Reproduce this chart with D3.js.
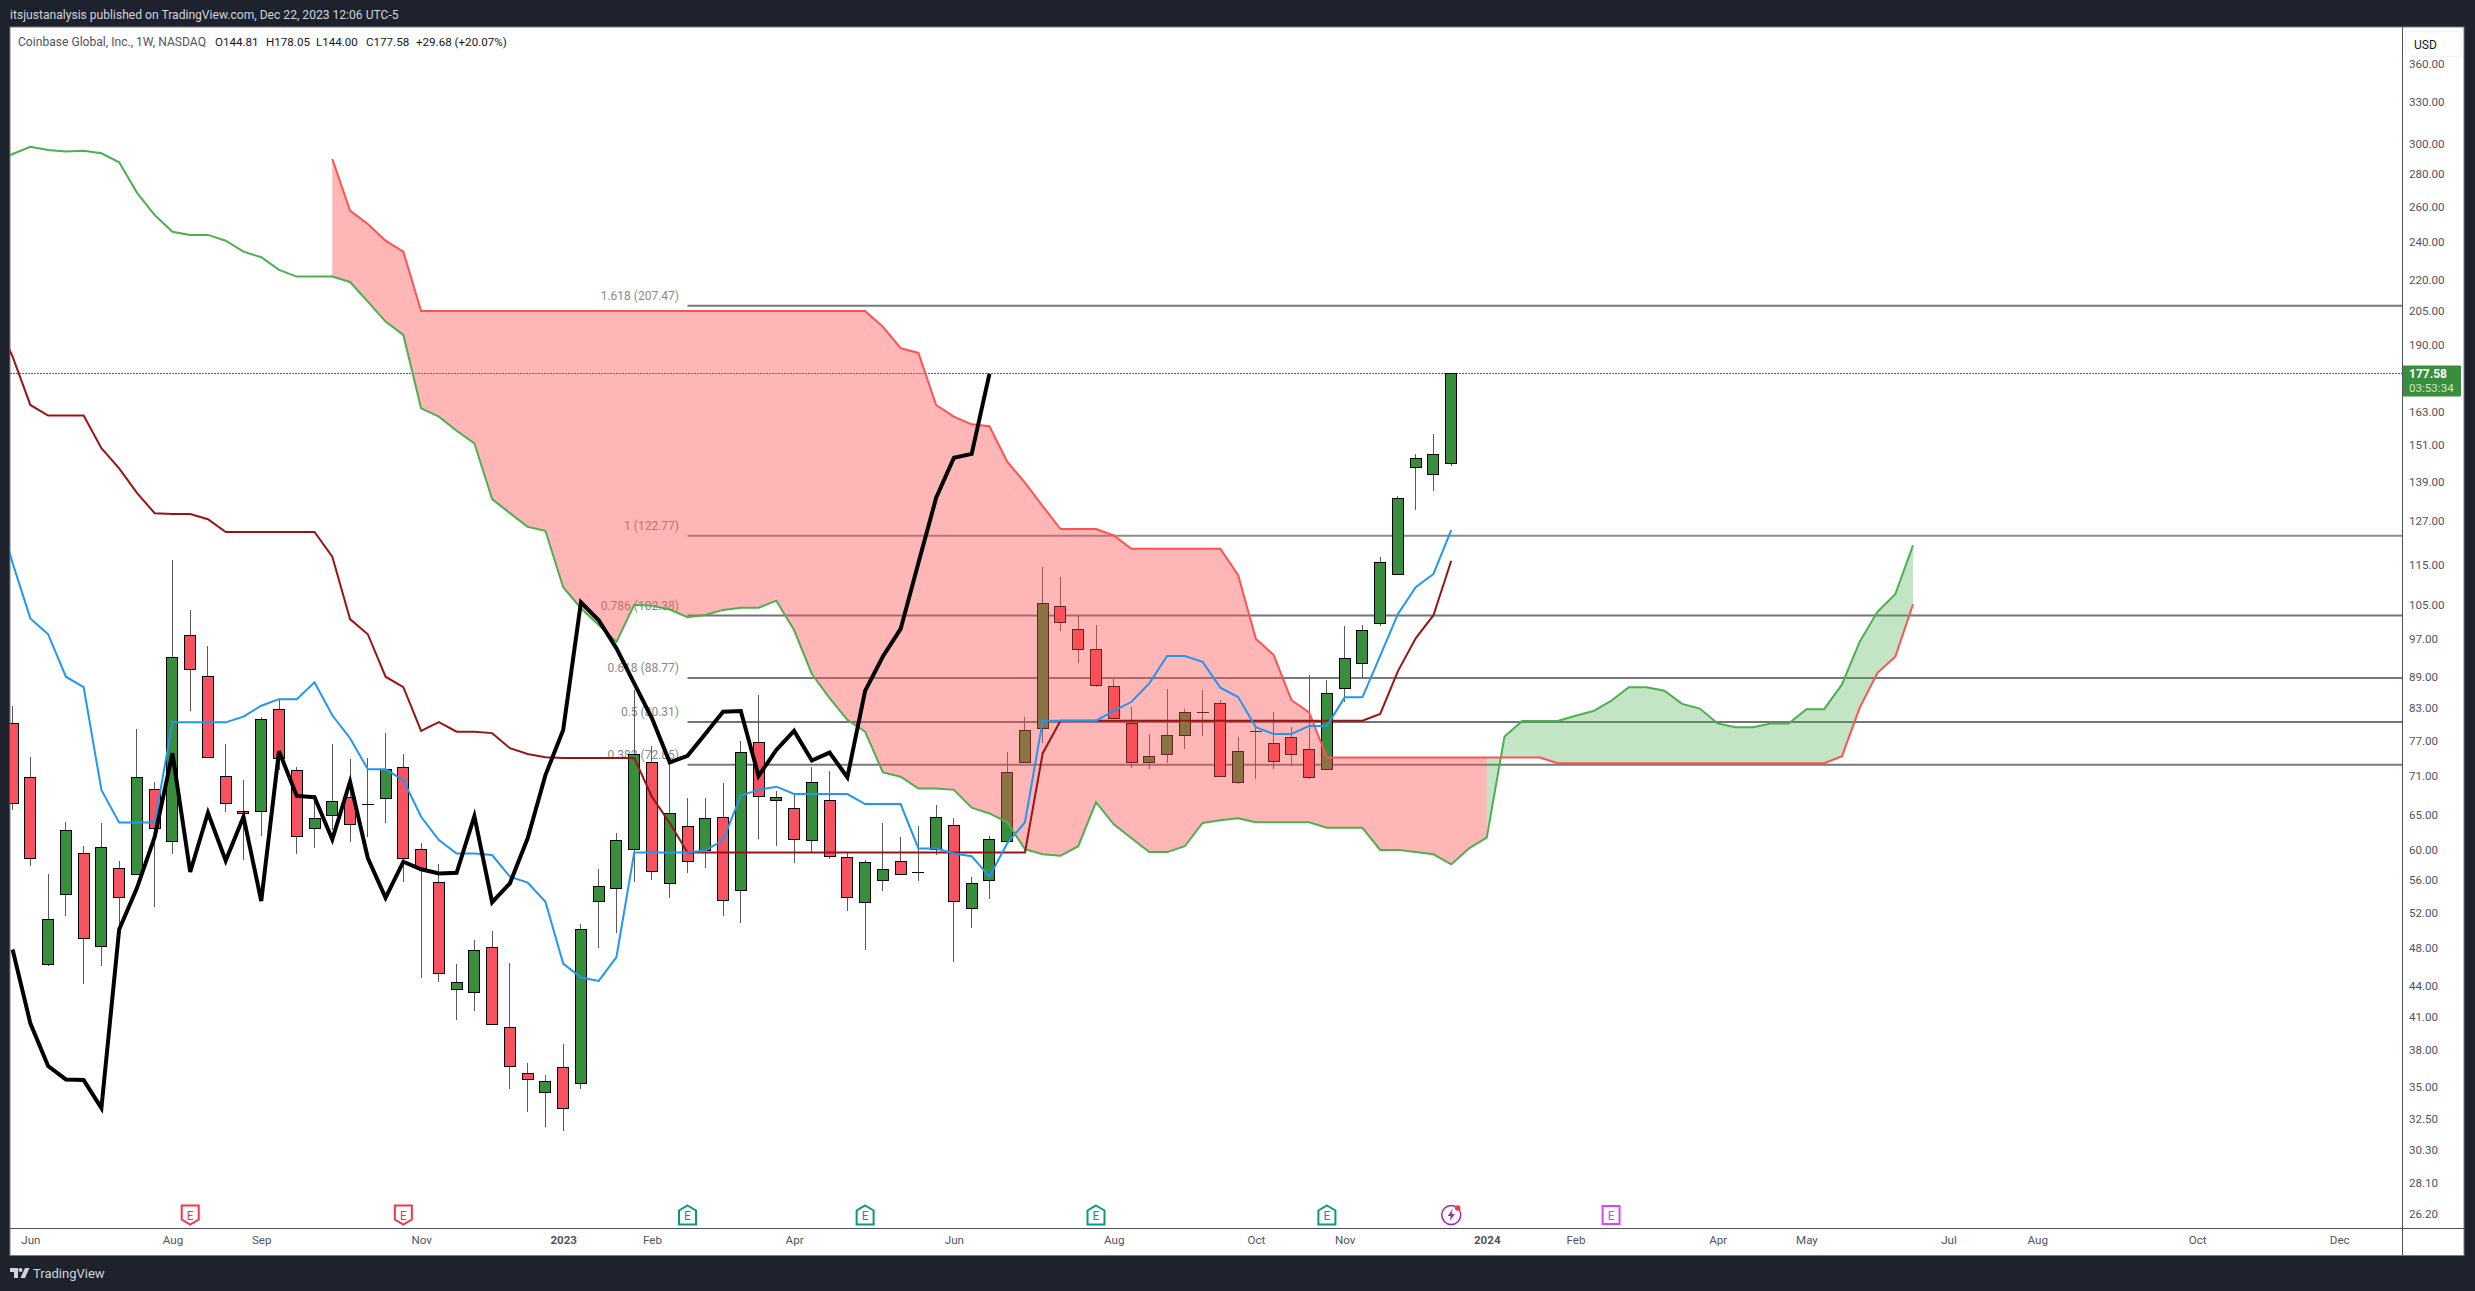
<!DOCTYPE html>
<html>
    <head>
        <meta charset="UTF-8">
        <title>Coinbase Global, Inc., 1W</title>
        <script src="https://d3js.org/d3.v7.min.js"></script>
        <style>
            html, body { margin: 0; padding: 0; background: #1e222d; }
            svg { display: block; }
            text { font-family: Roboto, sans-serif; }
            .axis path, .axis line { display: none; }
            .axis text { font-family: Roboto, sans-serif; font-size: 11.6px; fill: #50535e; }
            .wick, .body, .dotted { shape-rendering: crispEdges; }
        </style>
    </head>
    <body>
        <svg id="chart" width="2475" height="1291"></svg>
        <script>
            // weekly candles
            const open = [
                80.07,70.80,46.22,54.21,59.53,48.15,57.52,56.74,68.88,61.12,
                97.86,89.05,70.89,65.51,65.45,82.66,71.87,63.01,64.86,67.63,
                66.55,67.48,72.42,60.06,55.72,43.66,43.36,48.04,39.99,36.04,
                34.52,36.54,35.24,53.33,54.96,60.06,73.19,55.60,63.30,59.89,
                64.62,54.69,76.68,67.18,65.96,61.32,67.18,59.00,53.23,55.97,
                58.45,57.00,60.06,63.39,52.51,55.97,61.18,73.26,79.17,104.54,
                99.20,94.78,87.12,80.07,73.26,74.61,77.91,82.10,83.81,69.99,
                78.63,76.50,77.55,75.46,72.09,86.76,91.81,100.58,112.46,143.55,
                141.27,144.81]
            const high = [
                83.29,74.20,56.78,63.97,60.52,63.74,58.49,79.04,70.09,116.19,
                103.67,95.50,76.38,70.36,81.22,84.44,72.52,67.99,76.38,73.76,
                73.97,78.32,74.66,60.98,58.09,46.25,48.85,49.86,46.32,36.88,
                35.90,38.53,50.67,57.43,62.35,86.39,76.03,73.14,67.48,67.48,
                69.83,76.90,85.41,68.62,68.26,72.52,71.82,59.53,58.63,63.74,
                61.73,63.35,66.46,64.47,56.44,61.92,74.95,81.22,114.34,111.77,
                102.26,100.19,88.58,83.16,78.14,86.62,82.72,86.39,84.44,77.61,
                79.76,82.16,79.40,89.40,88.38,99.98,100.19,116.98,134.40,148.00,
                154.90,178.05]
            const low = [
                65.71,57.83,46.04,51.63,44.19,46.04,49.98,56.65,52.70,59.44,
                82.40,74.00,65.45,58.63,61.92,72.00,59.44,60.24,62.77,61.12,
                61.82,63.83,55.80,44.79,44.42,40.70,41.55,40.24,34.80,33.02,
                31.91,31.62,34.80,47.96,49.67,55.76,56.01,53.80,56.95,57.62,
                51.63,50.82,61.49,60.56,58.27,59.75,58.80,52.22,47.75,54.66,
                56.65,55.92,59.30,46.49,50.24,53.66,61.08,73.15,76.61,98.90,
                91.93,86.92,80.95,72.36,72.15,73.14,75.56,77.84,70.83,69.77,
                70.52,72.15,72.70,70.52,72.00,84.11,88.78,100.00,112.40,130.30,
                136.10,144.00]
            const close = [
                66.72,58.89,51.20,62.77,49.03,60.34,53.84,70.80,63.01,93.07,
                90.55,74.09,66.72,65.22,80.80,73.92,61.82,64.47,67.02,63.60,
                66.55,72.09,58.85,57.52,45.28,44.36,47.71,40.31,36.63,35.56,
                35.40,33.28,50.05,55.21,61.29,74.57,57.08,65.22,58.40,64.47,
                53.43,74.95,67.79,67.63,61.46,69.99,59.12,53.84,58.32,57.38,
                56.74,57.00,64.62,53.36,55.60,61.46,71.61,78.80,105.27,100.81,
                94.78,87.32,80.98,73.26,74.26,77.91,82.10,82.10,70.94,75.12,
                78.63,73.43,74.61,70.80,85.75,92.86,98.98,115.58,133.74,146.52,
                147.87,177.58]

            // ichimoku lines
            const conversion = [
                115.4,101.7,98.1,89.05,86.95,68.8,63.85,63.85,63.85,80.25,
                80.25,80.25,80.25,81.3,83.35,84.6,84.6,87.9,81.55,77.4,
                72.1,72.1,70.35,64.7,61.35,59.5,59.5,59.3,56.45,55.7,
                53.3,46.3,44.85,44.5,47.0,59.65,59.65,59.65,59.65,59.9,
                61.35,67.9,68.8,69.3,68.15,68.15,68.15,68.15,66.6,66.6,
                66.6,60.2,60.2,59.5,59.15,56.45,60.9,63.9,80.55,80.55,
                80.55,80.55,82.35,84.1,87.7,93.35,93.35,92.1,86.85,85.0,
                79.35,78.15,78.15,79.6,79.6,84.95,84.95,93.4,102.75,109.2,
                112.55,124.4]
            const base = [
                184.7,165.45,161.5,161.5,161.5,149.9,143.2,135.4,129.25,129.05,
                129.05,127.5,123.85,123.85,123.85,123.85,123.85,123.85,117.05,101.55,
                98.1,89.05,86.95,78.7,80.3,78.55,78.55,78.3,75.65,74.65,
                74.1,74.0,74.0,74.0,74.0,74.0,67.7,63.8,59.65,59.65,
                59.65,59.65,59.65,59.65,59.65,59.65,59.65,59.65,59.65,59.65,
                59.65,59.65,59.65,59.65,59.65,59.65,59.65,59.65,74.8,80.55,
                80.55,80.55,80.55,80.55,80.55,80.55,80.55,80.55,80.55,80.55,
                80.55,80.55,80.55,80.55,80.55,80.55,80.55,81.8,90.2,97.2,
                102.45,116.0]
            const lagging = [
                47.8,40.4,36.65,35.55,35.5,33.3,50.05,55.0,61.8,74.8,
                57.05,65.3,58.55,64.7,53.4,75.15,67.85,67.65,61.45,70.1,
                58.9,53.8,58.4,57.4,56.85,56.95,64.8,53.25,55.6,61.6,
                71.15,78.85,105.5,101.3,95.0,87.7,81.0,73.25,74.35,78.15,
                82.2,82.35,71.0,75.35,78.7,73.55,74.9,70.8,86.2,93.25,
                99.3,115.4,133.9,146.7,148.0,177.58]
            const spanA = [
                293.2,298.1,295.9,294.8,295.4,293.7,287.7,268.5,255.1,245.6,
                243.8,243.8,240.6,234.7,231.7,225.1,221.7,221.7,221.7,219.0,
                209.4,200.1,194.1,164.2,161.1,156.0,151.6,133.5,129.3,125.3,
                124.2,109.2,104.1,100.2,96.4,104.9,104.7,103.8,102.0,102.5,
                103.7,104.2,104.2,105.9,99.05,89.6,84.8,80.7,78.55,71.6,
                70.9,69.0,69.0,68.8,66.05,65.2,63.9,60.1,59.4,59.2,
                60.5,66.9,63.6,61.6,59.7,59.7,60.5,63.8,64.2,64.5,
                63.9,63.9,63.9,63.9,63.1,63.1,63.1,60.0,60.0,59.7,
                59.4,58.05,60.2,61.7,77.7,80.5,80.5,80.5,81.45,82.35,
                84.25,86.95,86.95,86.25,83.7,82.8,80.05,79.35,79.35,80.05,
                80.05,82.7,82.7,87.5,96.45,103.25,107.45,120.15]
            const spanB = [
                null,null,null,null,null,null,null,null,null,null,
                null,null,null,null,null,null,null,null,289.9,257.7,
                250.0,240.6,234.7,205.0,205.0,205.0,205.0,205.0,205.0,205.0,
                205.0,205.0,205.0,205.0,205.0,205.0,205.0,205.0,205.0,205.0,
                205.0,205.0,205.0,205.0,205.0,205.0,205.0,205.0,205.0,197.8,
                188.3,186.3,165.45,161.1,158.3,157.6,145.4,138.6,131.4,124.7,
                124.7,124.7,122.9,119.2,119.2,119.2,119.2,119.2,119.2,112.3,
                97.1,93.6,84.45,82.1,74.05,74.05,74.05,74.05,74.05,74.05,
                74.05,74.05,74.05,74.05,74.05,74.05,74.05,73.1,73.1,73.1,
                73.1,73.1,73.1,73.1,73.1,73.1,73.1,73.1,73.1,73.1,
                73.1,73.1,73.1,74.3,83.0,89.85,93.2,105.05]

            // value of each line one bar before the left edge, so they run off the plot
            const conversionBefore = 132.7
            const baseBefore = 202
            const spanABefore = 288

            // fib levels
            const fibLevels = ['1.618','1','0.786','0.618','0.5','0.382']
            const fibPrices = [207.47,122.77,102.38,88.77,80.31,72.85]
            const fibColors = ['#787878','#8c8c8c','#747474','#787878','#747474','#787878']

            // axes
            const priceTicks = [360,330,300,280,260,240,220,205,190,163,151,139,127,115,105,97,89,83,77,71,65,60,56,52,48,44,41,38,35,32.5,30.3,28.1,26.2]
            const dateTickIndex = [1,9,14,23,31,36,44,53,62,70,75,83,88,96,101,109,114,123,131]
            const dateTickLabels = ['Jun','Aug','Sep','Nov','2023','Feb','Apr','Jun','Aug','Oct','Nov','2024','Feb','Apr','May','Jul','Aug','Oct','Dec']

            // earnings / dividends flags along the bottom
            const earningsMissIndex = [10,22]
            const earningsBeatIndex = [38,48,61,74]
            const earningsNextIndex = [90]
            const newsIndex = [81]

            const lastPrice = 177.58
            const cloudRedFrom = 18, cloudSwitch = 83, cloudEnd = 107

            const svg = d3.select('#chart')
            const plot = { left: 10, right: 2402, top: 27, bottom: 1228, outerRight: 2464, outerBottom: 1255.5 }

            const xScale = d3.scaleLinear().domain([0, 107]).range([12.6, 1913])
            const yScale = d3.scaleLog().domain([80.31, 207.47]).range([722, 305.7])

            // page frame
            svg.append('rect')
                .attr('x', plot.left).attr('y', plot.top)
                .attr('width', plot.outerRight - plot.left)
                .attr('height', plot.outerBottom - plot.top)
                .style('fill', 'white').style('stroke', '#777a85')

            svg.append('defs').append('clipPath').attr('id', 'plotClip')
                .append('rect')
                .attr('x', plot.left).attr('y', plot.top)
                .attr('width', plot.right - plot.left)
                .attr('height', plot.bottom - plot.top)

            const g = svg.append('g').attr('clip-path', 'url(#plotClip)')

            // fib lines and labels go under everything
            fibPrices.forEach(function(p, i) {
                g.append('line')
                    .attr('x1', xScale(38)).attr('x2', plot.right)
                    .attr('y1', yScale(p)).attr('y2', yScale(p))
                    .style('stroke', fibColors[i]).style('stroke-width', 2)
                g.append('text')
                    .attr('x', 679).attr('y', yScale(p) - 6)
                    .attr('text-anchor', 'end')
                    .style('font-size', '12px').style('fill', '#8a8a8a')
                    .text(fibLevels[i] + ' (' + p.toFixed(2) + ')')
            })

            // last price dotted line
            g.append('line')
                .attr('class', 'dotted')
                .attr('x1', plot.left).attr('x2', plot.right)
                .attr('y1', yScale(lastPrice)).attr('y2', yScale(lastPrice))
                .style('stroke', '#2e7d32').style('stroke-dasharray', '1.5 1.5')

            // candles
            const candles = g.selectAll('g.candle').data(open).enter().append('g').attr('class', 'candle')
            candles.append('line')
                .attr('class', 'wick')
                .attr('x1', (d, i) => xScale(i)).attr('x2', (d, i) => xScale(i))
                .attr('y1', (d, i) => yScale(high[i])).attr('y2', (d, i) => yScale(low[i]))
                .style('stroke', '#5a5a5a')
            candles.append('rect')
                .attr('class', 'body')
                .attr('x', (d, i) => xScale(i) - 5.5)
                .attr('width', 11)
                .attr('y', (d, i) => yScale(Math.max(open[i], close[i])))
                .attr('height', (d, i) => Math.max(0.01, yScale(Math.min(open[i], close[i])) - yScale(Math.max(open[i], close[i]))))
                .style('fill', (d, i) => close[i] >= open[i] ? '#388e3c' : '#f7525f')
                .style('stroke', 'black')

            // cloud, painted over the candles
            const cloudArea = d3.area()
                .x(d => xScale(d))
                .y0(d => yScale(spanA[d]))
                .y1(d => yScale(spanB[d]))
            g.append('path').attr('d', cloudArea(d3.range(cloudRedFrom, cloudSwitch + 1)))
                .style('fill', '#ff5252').style('fill-opacity', 0.42)
            g.append('path').attr('d', cloudArea(d3.range(cloudSwitch, cloudEnd + 1)))
                .style('fill', '#4caf50').style('fill-opacity', 0.33)

            function drawLine(values, color, width, before) {
                const points = values.map((d, i) => ({ index: i, price: d }))
                if (before !== undefined) points.unshift({ index: -1, price: before })
                const line = d3.line()
                    .defined(d => d.price !== null)
                    .x(d => xScale(d.index))
                    .y(d => yScale(d.price))
                g.append('path')
                    .attr('d', line(points))
                    .style('fill', 'none')
                    .style('stroke', color)
                    .style('stroke-width', width)
            }
            drawLine(spanA, '#4caf50', 2, spanABefore)
            drawLine(spanB, '#ff5252', 2)
            drawLine(base, '#991515', 2, baseBefore)
            drawLine(conversion, '#2196f3', 2, conversionBefore)
            drawLine(lagging, '#000000', 4)

            // earnings flags
            const flagY = 1215
            const flagMark = svg.append('g')
            function drawFlag(index, shape, color) {
                const f = flagMark.append('g').attr('transform', 'translate(' + xScale(index) + ',' + flagY + ')')
                f.append('path').attr('d', shape)
                    .style('fill', 'white').style('stroke', color).style('stroke-width', 2)
                f.append('text').attr('y', 4.5).attr('text-anchor', 'middle')
                    .style('font-size', '12px').style('fill', color).text('E')
            }
            earningsMissIndex.forEach(i => drawFlag(i, 'M-8.5,-9.5 H8.5 V4.5 L0,9.5 L-8.5,4.5 Z', '#f23645'))
            earningsBeatIndex.forEach(i => drawFlag(i, 'M0,-9.5 L8.5,-4.5 V9.5 H-8.5 V-4.5 Z', '#089981'))
            earningsNextIndex.forEach(i => drawFlag(i, 'M-8.5,-9 H8.5 V9 H-8.5 Z', '#e040fb'))
            newsIndex.forEach(function(i) {
                const f = flagMark.append('g').attr('transform', 'translate(' + xScale(i) + ',' + flagY + ')')
                f.append('circle').attr('r', 9.5).style('fill', 'white').style('stroke', '#9c27b0').style('stroke-width', 1.5)
                f.append('path').attr('d', 'M1.5,-6 L-3.5,1 H-0.5 L-1.5,6 L3.5,-1 H0.5 Z').style('fill', '#9c27b0')
                f.append('circle').attr('cx', 6.5).attr('cy', -7).attr('r', 2.8).style('fill', '#f23645')
            })

            // price axis
            svg.append('g')
                .attr('class', 'axis')
                .attr('transform', 'translate(' + plot.right + ',0)')
                .call(d3.axisRight(yScale).tickValues(priceTicks).tickSize(0).tickPadding(7).tickFormat(d3.format('.2f')))
            svg.append('rect')
                .attr('x', plot.right + 1).attr('y', plot.top + 1)
                .attr('width', plot.outerRight - plot.right - 2).attr('height', 32)
                .style('fill', 'white')
            svg.append('rect')
                .attr('x', 2405.5).attr('y', 31.5).attr('width', 55.5).attr('height', 25).attr('rx', 3)
                .style('fill', 'white').style('stroke', '#f0f3fa').style('stroke-width', 1.5)
            svg.append('text').attr('x', 2414).attr('y', 49)
                .style('font-size', '12px').style('fill', '#131722').text('USD')

            // last price tag
            svg.append('rect')
                .attr('x', plot.right).attr('y', yScale(lastPrice) - 8.5)
                .attr('width', 59).attr('height', 31).attr('rx', 1)
                .style('fill', '#388e3c')
            svg.append('text').attr('x', 2409).attr('y', yScale(lastPrice) + 4.5)
                .style('font-size', '12px').style('font-weight', 'bold').style('fill', 'white').text('177.58')
            svg.append('text').attr('x', 2409).attr('y', yScale(lastPrice) + 18.5)
                .style('font-size', '11.6px').style('fill', '#cfe6d0').text('03:53:34')

            // time axis
            svg.append('g')
                .attr('class', 'axis')
                .attr('transform', 'translate(0,' + plot.bottom + ')')
                .call(d3.axisBottom(xScale).tickValues(dateTickIndex).tickSize(0).tickPadding(8)
                    .tickFormat((d, i) => dateTickLabels[i]))
                .selectAll('text')
                .style('font-weight', (d, i) => dateTickLabels[i].length == 4 ? 'bold' : 'normal')

            // separators
            svg.append('line').attr('x1', plot.left).attr('x2', plot.outerRight)
                .attr('y1', plot.bottom + 0.5).attr('y2', plot.bottom + 0.5).style('stroke', '#50535e')
            svg.append('line').attr('x1', plot.right + 0.5).attr('x2', plot.right + 0.5)
                .attr('y1', plot.top).attr('y2', plot.outerBottom).style('stroke', '#50535e')

            // header text
            svg.append('text').attr('x', 10).attr('y', 19)
                .style('font-size', '12.1px').style('fill', '#d1d4dc')
                .text('itsjustanalysis published on TradingView.com, Dec 22, 2023 12:06 UTC-5')
            svg.append('text').attr('x', 18).attr('y', 46)
                .style('font-size', '12.1px').style('fill', '#50535e')
                .text('Coinbase Global, Inc., 1W, NASDAQ')
            const legendX = [215, 266, 316, 366, 416]
            const legendText = ['O144.81', 'H178.05', 'L144.00', 'C177.58', '+29.68 (+20.07%)']
            legendText.forEach(function(t, i) {
                svg.append('text').attr('x', legendX[i]).attr('y', 46)
                    .style('font-size', '11.6px').style('fill', '#131722').text(t)
            })

            // footer logo
            const logo = svg.append('g').attr('transform', 'translate(10,1268)').style('fill', '#d1d4dc')
            logo.append('path').attr('d', 'M0,0 H8 V10 H4 V4 H0 Z')
            logo.append('circle').attr('cx', 10.5).attr('cy', 2).attr('r', 2)
            logo.append('path').attr('d', 'M15,0 H19.5 L15,10 H10.5 Z')
            svg.append('text').attr('x', 33).attr('y', 1278)
                .style('font-size', '13px').style('fill', '#d1d4dc').text('TradingView')
        </script>
    </body>
</html>
